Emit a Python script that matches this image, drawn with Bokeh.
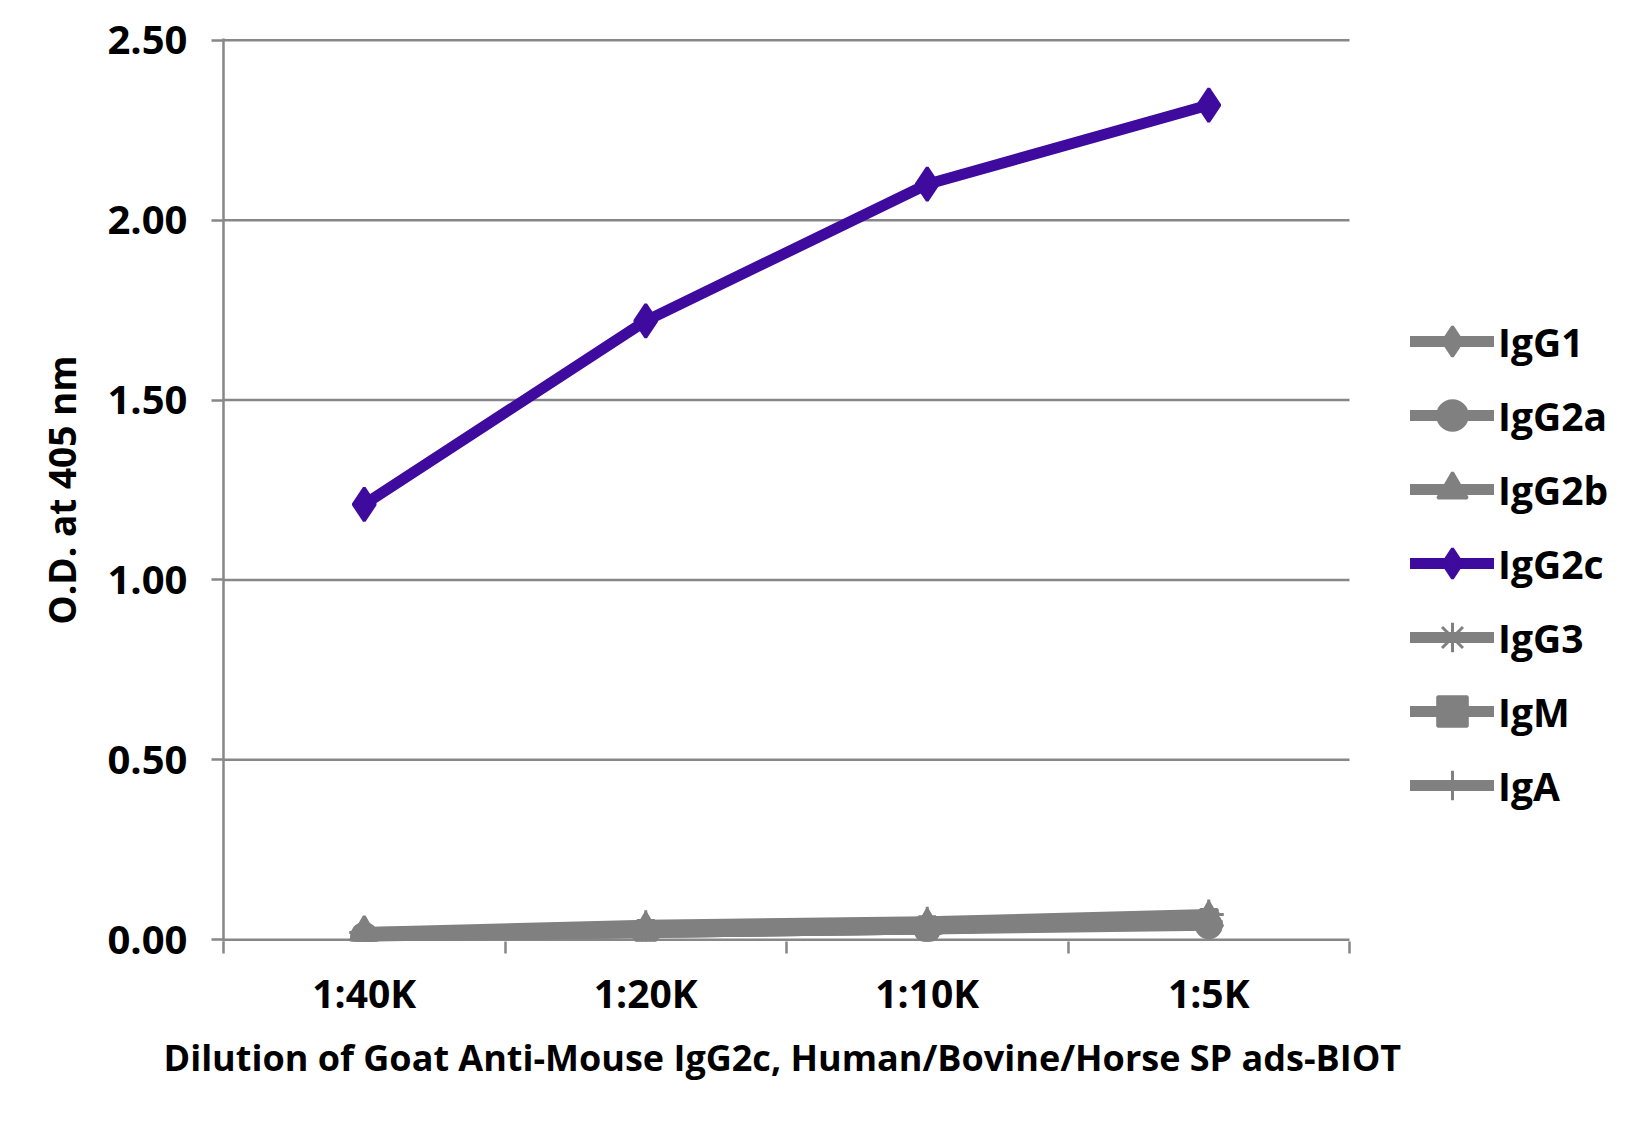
from bokeh.plotting import figure
from bokeh.models import Range1d, FixedTicker, Legend, LegendItem, NumeralTickFormatter, Title
from bokeh.embed import file_html
from bokeh.resources import INLINE

dilutions = ["1:40K", "1:20K", "1:10K", "1:5K"]
series_names = ["IgG1", "IgG2a", "IgG2b", "IgG2c", "IgG3", "IgM", "IgA"]
igg1 = [0.01, 0.02, 0.03, 0.05]
igg2a = [0.01, 0.02, 0.03, 0.04]
igg2b = [0.02, 0.03, 0.04, 0.06]
igg2c = [1.21, 1.72, 2.10, 2.32]
igg3 = [0.01, 0.02, 0.03, 0.05]
igm = [0.01, 0.03, 0.04, 0.06]
iga = [0.02, 0.04, 0.05, 0.07]
y_ticks = [0.0, 0.5, 1.0, 1.5, 2.0, 2.5]
x_title = "Dilution of Goat Anti-Mouse IgG2c, Human/Bovine/Horse SP ads-BIOT"
y_title = "O.D. at 405 nm"

series_values = [igg1, igg2a, igg2b, igg2c, igg3, igm, iga]
GRAY = "#808080"
PURPLE = "#3F0A9E"
colors = [GRAY, GRAY, GRAY, PURPLE, GRAY, GRAY, GRAY]
markers = ["diamond", "circle", "triangle", "diamond", "asterisk", "square", "cross"]
sizes = [33, 25, 28, 33, 28, 17, 30]

FONT = "Open Sans"
AXIS_GRAY = "#878787"
LINE_W = 11

# layout: plotting area of the categories is 1126 px wide; the frame continues
# to the right to host the legend
FIG_W, FIG_H = 1634, 1110
BORDER_L = 223
DATA_W = 1126
FRAME_W = FIG_W - BORDER_L

n = len(dilutions)
xs = [i + 0.5 for i in range(n)]
x_end = n * FRAME_W / DATA_W

p = figure(width=FIG_W, height=FIG_H, x_range=Range1d(0, x_end), y_range=Range1d(-0.005, 2.505),
           output_backend="svg", toolbar_location=None,
           min_border_left=BORDER_L, min_border_top=38, min_border_right=0, min_border_bottom=169)
p.outline_line_color = None
p.background_fill_color = "white"
p.border_fill_color = "white"

# x axis (tick labels at category centres, tick marks at category boundaries)
xa = p.xaxis[0]
xa.ticker = FixedTicker(ticks=xs, minor_ticks=list(range(n + 1)))
xa.major_label_overrides = {x: lab for x, lab in zip(xs, dilutions)}
xa.major_tick_out = 0
xa.major_tick_in = 0
xa.minor_tick_out = 12
xa.minor_tick_in = 0
xa.minor_tick_line_color = AXIS_GRAY
xa.minor_tick_line_width = 2.5
xa.axis_line_color = None
xa.major_label_standoff = 12
xa.major_label_text_font = FONT
xa.major_label_text_font_style = "bold"
xa.major_label_text_font_size = "39px"
xa.major_label_text_color = "black"

# y axis
ya = p.yaxis[0]
ya.ticker = FixedTicker(ticks=y_ticks)
ya.formatter = NumeralTickFormatter(format="0.00")
ya.major_tick_out = 12
ya.major_tick_in = 0
ya.major_tick_line_color = AXIS_GRAY
ya.major_tick_line_width = 2.5
ya.minor_tick_line_color = None
ya.axis_line_color = AXIS_GRAY
ya.axis_line_width = 2.5
ya.major_label_standoff = 24
ya.major_label_text_font = FONT
ya.major_label_text_font_style = "bold"
ya.major_label_text_font_size = "40px"
ya.major_label_text_color = "black"
ya.axis_label = y_title
ya.axis_label_text_font = FONT
ya.axis_label_text_font_style = "bold"
ya.axis_label_text_font_size = "37px"
ya.axis_label_text_color = "black"
ya.axis_label_standoff = 17

p.xgrid.visible = False
p.ygrid.visible = False
# horizontal gridlines spanning only the category area
p.segment(x0=[0] * len(y_ticks), x1=[n] * len(y_ticks), y0=y_ticks, y1=y_ticks,
          line_color=AXIS_GRAY, line_width=2.5)

order = [0, 1, 2, 4, 5, 6, 3]
rend = {}
for i in order:
    vals = series_values[i]
    lr = p.line(xs, vals, line_color=colors[i], line_width=LINE_W, line_join="round", line_cap="round")
    sr = p.scatter(xs, vals, marker=markers[i], size=sizes[i],
                   fill_color=colors[i], line_color=colors[i], line_width=3)
    rend[i] = (lr, sr)
items = [LegendItem(label=name, renderers=list(rend[i])) for i, name in enumerate(series_names)]

legend = Legend(items=items, location=(1187, 119), orientation="vertical",
                glyph_width=84, glyph_height=74, label_height=74, label_standoff=4,
                spacing=0, padding=0, margin=0, border_line_color=None,
                background_fill_alpha=0,
                label_text_font=FONT, label_text_font_style="bold",
                label_text_font_size="39px", label_text_color="black")
p.add_layout(legend, "center")

xt = Title(text=x_title, align="left", offset=-60, standoff=19,
           text_font=FONT, text_font_style="bold", text_font_size="36px", text_color="black")
p.add_layout(xt, "below")

open("out.html", "w").write(file_html(p, INLINE))
